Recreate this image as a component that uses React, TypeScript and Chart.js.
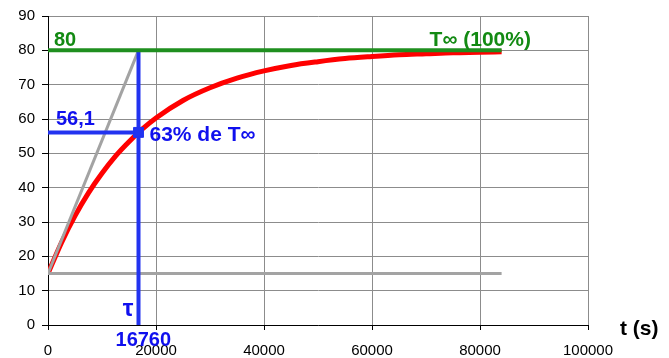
import React, { useEffect, useRef } from "react";
import { Chart, registerables } from "chart.js";

Chart.register(...registerables);

// Data
const timeValues = [0, 2500, 5000, 7500, 10000, 12500, 15000, 17500, 20000, 25000, 30000, 35000, 40000, 45000, 50000, 55000, 60000, 65000, 70000, 75000, 80000, 84000];
const tempValues = [15, 24.0, 31.8, 38.5, 44.2, 49.2, 53.4, 57.1, 60.3, 65.4, 69.1, 71.9, 74.0, 75.6, 76.7, 77.6, 78.2, 78.7, 79.0, 79.3, 79.45, 79.6];
const T0 = 15;
const Tinf = 80;
const tau = 16760;
const T63 = 56.1;
const tEnd = 84000;
const xTicks = [0, 20000, 40000, 60000, 80000, 100000];
const yMax = 90;

const RED = "#ff0000";
const GREEN = "#1f8f1f";
const GREEN_TXT = "#138a13";
const BLUE = "#2233f0";
const BLUE_TXT = "#1010ee";
const GRAY = "#a3a3a3";
const FONT = "'Liberation Sans', Arial, sans-serif";

const annotations = {
  id: "annotations",
  afterDatasetsDraw(chart: any) {
    const { ctx, scales, chartArea } = chart;
    const xs = scales.x;
    const ys = scales.y;
    const px = (v: number) => xs.getPixelForValue(v);
    const py = (v: number) => ys.getPixelForValue(v);
    ctx.save();
    ctx.textBaseline = "alphabetic";
    ctx.font = `bold 20px ${FONT}`;
    ctx.fillStyle = GREEN_TXT;
    ctx.textAlign = "left";
    ctx.fillText(String(Tinf), chartArea.left + 6, py(Tinf) - 4);
    ctx.font = `bold 21px ${FONT}`;
    ctx.fillText("T\u221e (100%)", px(tEnd) - 72, py(Tinf) - 4);

    ctx.fillStyle = BLUE_TXT;
    ctx.font = `bold 20px ${FONT}`;
    ctx.fillText(String(T63).replace(".", ","), chartArea.left + 8, py(T63) - 7);
    ctx.fillText(String(tau), px(tau) - 23, py(0) + 21);
    ctx.font = `bold 21px ${FONT}`;
    ctx.fillText("63% de T\u221e", px(tau) + 11, py(T63) + 9);
    ctx.font = `bold 24px ${FONT}`;
    ctx.textAlign = "right";
    ctx.fillText("\u03c4", px(tau) - 5, py(0) - 9);

    ctx.fillStyle = "#000";
    ctx.textAlign = "left";
    ctx.font = `bold 21px ${FONT}`;
    ctx.fillText("t (s)", chartArea.right + 32, py(0) + 10);
    ctx.restore();
  },
};

export default function App() {
  const ref = useRef<HTMLCanvasElement>(null);
  useEffect(() => {
    if (!ref.current) return;
    const chart = new Chart(ref.current, {
      type: "line",
      data: {
        datasets: [
          {
            data: [{ x: tau, y: T63 }],
            borderColor: BLUE,
            backgroundColor: BLUE,
            pointStyle: "rect",
            pointRadius: 7,
            showLine: false,
            order: 0,
          },
          {
            data: [{ x: 0, y: Tinf }, { x: tEnd, y: Tinf }],
            borderColor: GREEN,
            borderWidth: 4,
            pointRadius: 0,
            order: 1,
          },
          {
            data: [{ x: tau, y: 0 }, { x: tau, y: Tinf }],
            borderColor: BLUE,
            borderWidth: 4,
            pointRadius: 0,
            order: 2,
          },
          {
            data: [{ x: 0, y: T63 }, { x: tau, y: T63 }],
            borderColor: BLUE,
            borderWidth: 4,
            pointRadius: 0,
            order: 3,
          },
          {
            data: [{ x: 0, y: T0 }, { x: tau, y: Tinf }],
            borderColor: GRAY,
            borderWidth: 3,
            pointRadius: 0,
            order: 4,
          },
          {
            data: [{ x: 0, y: T0 }, { x: tEnd, y: T0 }],
            borderColor: GRAY,
            borderWidth: 3,
            pointRadius: 0,
            order: 5,
          },
          {
            data: timeValues.map((t, i) => ({ x: t, y: tempValues[i] })),
            borderColor: RED,
            borderWidth: 5,
            pointRadius: 0,
            cubicInterpolationMode: "monotone",
            order: 6,
          },
        ],
      },
      options: {
        responsive: false,
        animation: false,
        devicePixelRatio: 1,
        layout: { padding: { left: 0, right: 81, top: 16, bottom: 0 } },
        plugins: { legend: { display: false }, tooltip: { enabled: false } },
        scales: {
          x: {
            type: "linear",
            min: 0,
            max: 100000,
            afterBuildTicks: (s: any) => {
              s.ticks = xTicks.map((v) => ({ value: v }));
            },
            afterFit: (s: any) => {
              s.height = 33;
            },
            ticks: {
              color: "#000",
              font: { family: FONT, size: 15 },
              padding: 12,
              maxRotation: 0,
              autoSkip: false,
              callback: (v: any) => String(v),
            },
            grid: { color: "#8c8c8c", tickColor: "#000", tickLength: 5 },
            border: { color: "#000", width: 1 },
          },
          y: {
            type: "linear",
            min: 0,
            max: yMax,
            afterFit: (s: any) => {
              s.width = 48;
            },
            ticks: {
              stepSize: 10,
              color: "#000",
              font: { family: FONT, size: 15 },
              padding: 7,
            },
            grid: { color: "#8c8c8c", tickColor: "#000", tickLength: 6 },
            border: { color: "#000", width: 1 },
          },
        },
      },
      plugins: [annotations],
    } as any);
    return () => chart.destroy();
  }, []);
  return (
    <div style={{ position: "fixed", left: 0, top: 0, width: 669, height: 358, background: "#fff" }}>
      <canvas ref={ref} width={669} height={358} style={{ display: "block" }} />
    </div>
  );
}
